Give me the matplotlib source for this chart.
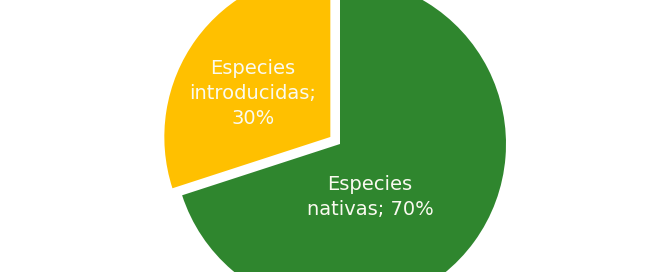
import matplotlib
matplotlib.use("Agg")
import matplotlib.pyplot as plt

# data
labels = ["Especies\nnativas; 70%", "Especies\nintroducidas;\n30%"]
values = [70, 30]
colors = ["#2F862E", "#FFC000"]
explode = [0, 0.072]

fig = plt.figure(figsize=(6.69, 2.72), dpi=100)
ax = fig.add_axes([0, 0, 1, 1])

wedges, _ = ax.pie(values, colors=colors, explode=explode, startangle=90,
                   counterclock=False, radius=1,
                   wedgeprops=dict(linewidth=0))

# pie centre at (340, 144) px from top, radius 166 px -> overflows top & bottom
R = 166.0
CX, CY = 340, 128

# label positions in radius units
ax.text(30 / R, -53 / R, labels[0], ha="center", va="center",
        fontsize=14, color="#FAFAF0", linespacing=1.4)
ax.text(-87 / R, 50 / R, labels[1], ha="center", va="center",
        fontsize=14, color="#FAFAF0", linespacing=1.4)

ax.set_xlim(-CX / R, (669 - CX) / R)
ax.set_ylim(-CY / R, (272 - CY) / R)
ax.set_aspect("equal")
ax.axis("off")

fig.savefig("out.png", dpi=100)
